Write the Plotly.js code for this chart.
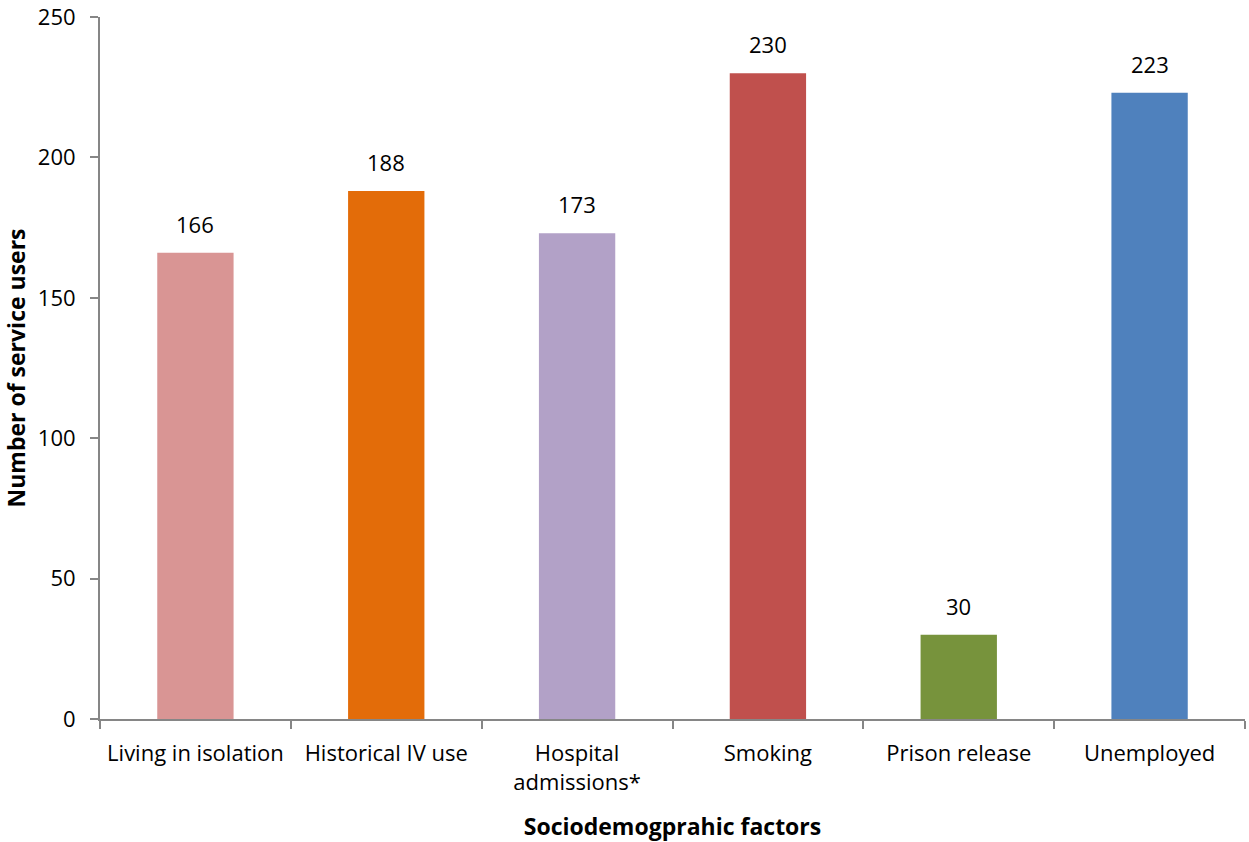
<!DOCTYPE html>
<html>
<head>
<meta charset="utf-8">
<script src="https://cdn.plot.ly/plotly-3.0.1.min.js"></script>
<style>
  html, body { margin: 0; padding: 0; background: #fff; }
  #chart { width: 1249px; height: 842px; }
</style>
</head>
<body>
<div id="chart"></div>
<script>
// Sociodemographic factors among service users
const categories = ["Living in isolation", "Historical IV use", "Hospital<br>admissions*", "Smoking", "Prison release", "Unemployed"];
const serviceUsers = [166, 188, 173, 230, 30, 223];
const barColors = ["#D99594", "#E36C09", "#B2A1C7", "#C0504D", "#77933C", "#4F81BD"];
const yTicks = [0, 50, 100, 150, 200, 250];

const font = "Open Sans, Liberation Sans, sans-serif";
const axisGrey = "#868686";

const trace = {
  type: "bar",
  x: categories,
  y: serviceUsers,
  width: 0.4,
  marker: { color: barColors },
  hoverinfo: "x+y"
};

// value labels sitting just above each bar
const valueLabels = categories.map((c, i) => ({
  x: c,
  y: serviceUsers[i],
  xref: "x",
  yref: "y",
  text: String(serviceUsers[i]),
  showarrow: false,
  yanchor: "bottom",
  yshift: 12,
  font: { family: font, size: 22, color: "#000" }
}));

const layout = {
  width: 1249,
  height: 842,
  margin: { l: 100, r: 4, t: 17, b: 123 },
  paper_bgcolor: "#fff",
  plot_bgcolor: "#fff",
  showlegend: false,
  font: { family: font, size: 22, color: "#000" },
  annotations: valueLabels,
  xaxis: {
    type: "category",
    showline: true,
    linecolor: axisGrey,
    linewidth: 2,
    ticks: "outside",
    tickson: "boundaries",
    ticklen: 8,
    tickwidth: 2,
    tickcolor: axisGrey,
    ticklabelstandoff: 14,
    showgrid: false,
    zeroline: false,
    tickfont: { family: font, size: 22, color: "#000" },
    title: {
      text: "<b>Sociodemogprahic factors</b>",
      font: { family: font, size: 23, color: "#000" },
      standoff: 26
    }
  },
  yaxis: {
    range: [0, 250],
    tickvals: yTicks,
    showline: true,
    linecolor: axisGrey,
    linewidth: 2,
    ticks: "outside",
    ticklen: 8,
    tickwidth: 2,
    tickcolor: axisGrey,
    ticklabelstandoff: 10,
    ticklabeloverflow: "allow",
    showgrid: false,
    zeroline: false,
    tickfont: { family: font, size: 22, color: "#000" },
    title: {
      text: "<b>Number of service users</b>",
      font: { family: font, size: 23, color: "#000" },
      standoff: 7
    }
  },
  bargap: 0.6
};

Plotly.newPlot("chart", [trace], layout, { displayModeBar: false, staticPlot: true });
</script>
</body>
</html>
